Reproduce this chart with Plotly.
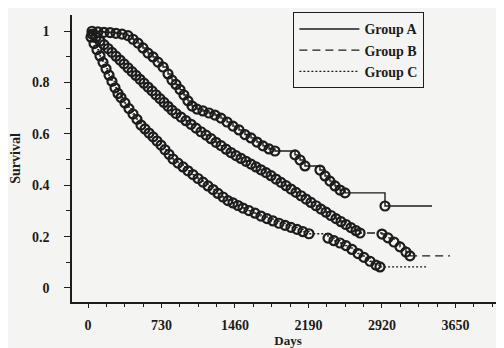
import plotly.graph_objects as go

# ---------------- data ----------------
# Group A: censored observations (days, survival)
A_days = [40, 99, 159, 219, 278, 338, 397, 447, 497, 546, 596, 646, 695, 745, 795,
          834, 874, 914, 953, 993, 1033, 1083, 1142, 1202, 1261, 1321, 1381, 1440,
          1500, 1559, 1619, 1678, 1738, 1798, 1857, 2056, 2106, 2155, 2304, 2354,
          2403, 2453, 2503, 2553, 2950]
A_surv = [0.999, 0.997, 0.995, 0.994, 0.991, 0.988, 0.982, 0.968, 0.953, 0.934, 0.914,
          0.899, 0.879, 0.860, 0.833, 0.809, 0.792, 0.772, 0.751, 0.728, 0.708, 0.696,
          0.689, 0.681, 0.673, 0.661, 0.646, 0.630, 0.615, 0.597, 0.584, 0.568, 0.553,
          0.541, 0.533, 0.518, 0.498, 0.475, 0.459, 0.436, 0.416, 0.397, 0.381, 0.370,
          0.319]
A_end = 3417

# Group B
B_days = [40, 79, 119, 159, 199, 238, 278, 318, 358, 397, 437, 477, 516, 556, 596,
          636, 675, 715, 755, 795, 834, 874, 924, 973, 1023, 1073, 1122, 1172, 1222,
          1271, 1321, 1371, 1420, 1470, 1520, 1569, 1619, 1669, 1718, 1768, 1818,
          1867, 1917, 1967, 2016, 2066, 2116, 2165, 2215, 2265, 2314, 2364, 2413,
          2463, 2513, 2562, 2612, 2662, 2702, 2920, 2980, 3039, 3099, 3158, 3198]
B_surv = [0.988, 0.976, 0.961, 0.947, 0.932, 0.917, 0.902, 0.887, 0.872, 0.857, 0.842,
          0.827, 0.812, 0.797, 0.782, 0.767, 0.752, 0.737, 0.722, 0.707, 0.692, 0.679,
          0.665, 0.651, 0.637, 0.622, 0.608, 0.595, 0.581, 0.567, 0.554, 0.540, 0.527,
          0.515, 0.504, 0.493, 0.482, 0.471, 0.460, 0.449, 0.437, 0.424, 0.411, 0.398,
          0.385, 0.372, 0.359, 0.346, 0.333, 0.320, 0.307, 0.295, 0.282, 0.270, 0.258,
          0.247, 0.235, 0.223, 0.214, 0.210, 0.195, 0.179, 0.160, 0.140, 0.125]
B_end = 3595

# Group C
C_days = [30, 60, 89, 119, 149, 179, 209, 238, 268, 298, 328, 367, 407, 447, 487, 526,
          566, 606, 646, 685, 725, 765, 805, 844, 894, 944, 993, 1043, 1093, 1142,
          1192, 1242, 1291, 1341, 1390, 1440, 1490, 1539, 1599, 1659, 1718, 1778,
          1837, 1897, 1957, 2016, 2076, 2135, 2195, 2384, 2443, 2503, 2562, 2622,
          2682, 2741, 2801, 2860, 2900]
C_surv = [0.976, 0.951, 0.927, 0.903, 0.878, 0.853, 0.828, 0.804, 0.779, 0.757, 0.741,
          0.720, 0.698, 0.677, 0.656, 0.634, 0.619, 0.603, 0.588, 0.572, 0.556, 0.538,
          0.520, 0.502, 0.486, 0.471, 0.456, 0.441, 0.426, 0.412, 0.397, 0.383, 0.368,
          0.354, 0.340, 0.331, 0.321, 0.311, 0.301, 0.291, 0.280, 0.270, 0.261, 0.252,
          0.244, 0.236, 0.228, 0.219, 0.211, 0.194, 0.184, 0.175, 0.165, 0.150, 0.134,
          0.119, 0.104, 0.089, 0.082]
C_end = 3367

x_ticks = [0, 730, 1460, 2190, 2920, 3650]
y_ticks = [0, 0.2, 0.4, 0.6, 0.8, 1.0]
y_ticktext = ["0", "0.2", "0.4", "0.6", "0.8", "1"]

groups = [
    ("Group A", A_days, A_surv, A_end, "solid"),
    ("Group B", B_days, B_surv, B_end, "8px,5px"),
    ("Group C", C_days, C_surv, C_end, "2px,2px"),
]

INK = "#1c1c1c"
FONT = "Liberation Serif"

fig = go.Figure()
for name, d, s, end, dash in groups:
    fig.add_trace(go.Scatter(
        x=[0] + d + [end], y=[1.0] + s + [s[-1]],
        mode="lines", line=dict(color=INK, width=1.4, dash=dash, shape="hv"),
        name=name, showlegend=True))
    fig.add_trace(go.Scatter(
        x=d, y=s, mode="markers",
        marker=dict(symbol="circle-open", size=9, color=INK, line=dict(width=2.2, color=INK)),
        showlegend=False, hoverinfo="skip"))

# page body has an 8px margin: figure is 496x340 so it fills the 504x348 window
fig.update_layout(
    width=496, height=340,
    margin=dict(l=64, r=0, t=7, b=46, autoexpand=False),
    paper_bgcolor="#f4f4f2", plot_bgcolor="#f4f4f2",
    font=dict(family=FONT, size=14, color=INK, weight="bold"),
    legend=dict(x=0.512, y=1.01, xanchor="left", yanchor="top",
                bordercolor=INK, borderwidth=1.2, bgcolor="rgba(0,0,0,0)",
                font=dict(family=FONT, size=14, color=INK, weight="bold"),
                itemwidth=60, tracegroupgap=0),
    xaxis=dict(range=[-159, 4132], showline=True, linecolor=INK, linewidth=1.5,
               showgrid=False, zeroline=False, tickvals=x_ticks,
               ticks="outside", ticklen=4, tickcolor=INK, tickwidth=1.2,
               minor=dict(dtick=182.5, tick0=0, ticks="outside", ticklen=3, tickcolor=INK),
               ticklabelstandoff=5,
               title=dict(text="Days", standoff=4, font=dict(size=13, weight="bold"))),
    yaxis=dict(range=[-0.0545, 1.0623], showline=True, linecolor=INK, linewidth=1.5,
               showgrid=False, zeroline=False, tickvals=y_ticks, ticktext=y_ticktext,
               ticks="outside", ticklen=6, tickcolor=INK, tickwidth=1.2,
               minor=dict(dtick=0.1, tick0=0, ticks="outside", ticklen=4, tickcolor=INK),
               ticklabelstandoff=12,
               title=dict(text="Survival", standoff=8, font=dict(size=14, weight="bold"))),
)

fig.write_html("out.html")
